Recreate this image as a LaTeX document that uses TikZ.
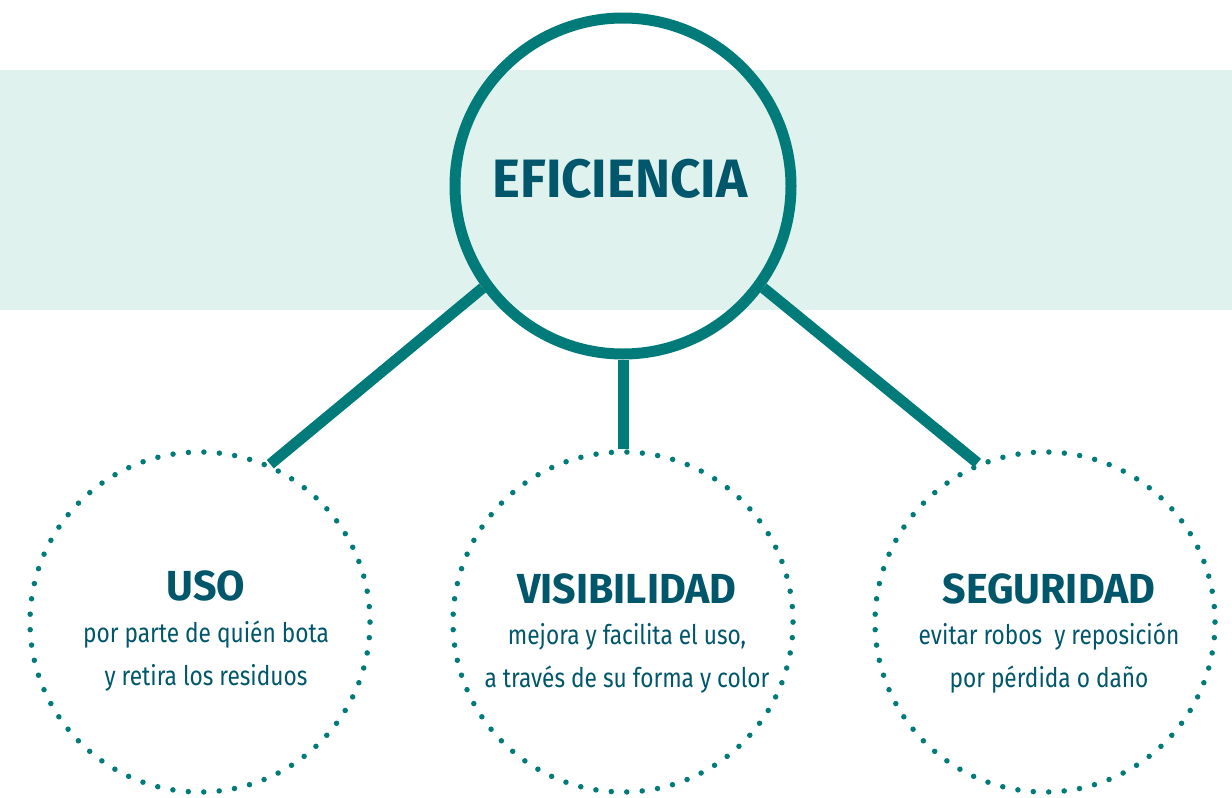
\documentclass[tikz,border=0pt]{standalone}
\usepackage{fontspec}
\setmainfont{Fira Sans}[FakeStretch=0.84]
\newfontfamily\headfont{Fira Sans}[FakeStretch=0.98]
\definecolor{teal1}{HTML}{007B7A}
\definecolor{ink}{HTML}{00566A}
\definecolor{mint}{HTML}{E0F2EE}
\begin{document}
\begin{tikzpicture}[x=1pt, y=-1pt,
    main/.style={circle, draw=teal1, line width=11pt, minimum size=336pt, inner sep=0pt},
    aspect/.style={circle, draw=teal1, line width=5.5pt, line cap=round, dash pattern=on 0pt off 15.48pt, minimum size=340pt, inner sep=0pt},
    link/.style={draw=teal1, line width=11pt},
    bigtitle/.style={anchor=base, text=ink, font=\headfont\bfseries\fontsize{54}{60}\selectfont},
    title/.style={anchor=base, text=ink, font=\headfont\bfseries\fontsize{42}{48}\selectfont},
    body/.style={anchor=base, text=ink, font=\fontsize{27}{32}\selectfont}]
      \useasboundingbox (0,0) rectangle (1232,798);
      \fill[mint] (0,70) rectangle (1232,310);

      \node[main] (eff) at (623, 186) {};
      \node[bigtitle] (efft) at (620, 197) {EFICIENCIA};

      \node[aspect] (uso) at (200, 622) {};
      \node[aspect] (vis) at (623, 622) {};
      \node[aspect] (seg) at (1045, 622) {};

      \draw[link] (eff.216) -- (uso.66);
      \draw[link] (eff.south) -- (vis.north);
      \draw[link] (eff.324) -- (seg.113);

      \node[title] (usot) at (206, 600) {USO};
      \node[body] (uso1) at (206, 642) {por parte de quién bota};
      \node[body] (uso2) at (206, 685) {y retira los residuos};

      \node[title] (vist) at (627, 603) {VISIBILIDAD};
      \node[body] (vis1) at (627, 644) {mejora y facilita el uso,};
      \node[body] (vis2) at (627, 687) {a través de su forma y color};

      \node[title] (segt) at (1049, 603) {SEGURIDAD};
      \node[body] (seg1) at (1049, 644) {evitar robos\ \ y reposición};
      \node[body] (seg2) at (1049, 687) {por pérdida o daño};
\end{tikzpicture}
\end{document}
